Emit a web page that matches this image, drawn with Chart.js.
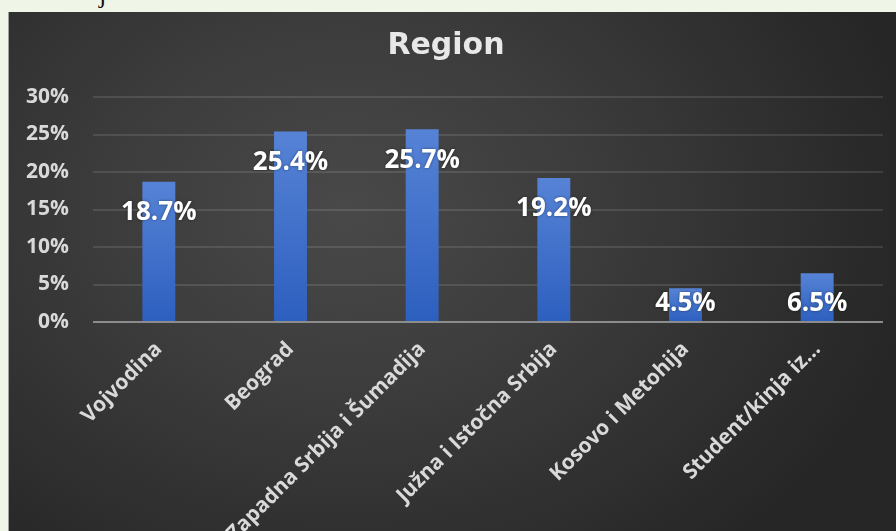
<!DOCTYPE html>
<html>
<head>
<meta charset="utf-8">
<script src="https://cdn.jsdelivr.net/npm/chart.js"></script>
<style>
  html, body { margin: 0; padding: 0; }
  body { width: 896px; height: 531px; background: #eff6e8; position: relative; overflow: hidden; }
  #frag { position: absolute; left: 99px; top: -20px; font: 26px "Liberation Serif", serif; color: #111; }
  #okvir {
    position: absolute; left: 8px; top: 12px; width: 888px; height: 519px;
    border-left: 1px solid #a0a0a0; box-sizing: border-box;
    background: radial-gradient(ellipse 65% 85% at 38% 38%, #494949 0%, #3b3b3b 45%, #262626 100%);
  }
</style>
</head>
<body>
<div id="frag">j</div>
<div id="okvir"><canvas id="grafikRegion"></canvas></div>
<script>
const regioni = ['Vojvodina', 'Beograd', 'Zapadna Srbija i Šumadija', 'Južna i Istočna Srbija', 'Kosovo i Metohija', 'Student/kinja iz…'];
const procenti = [18.7, 25.4, 25.7, 19.2, 4.5, 6.5];
const yTicks = [0, 5, 10, 15, 20, 25, 30];

const sivaSlova = '#d9d9d9';

// procenti na stubovima, kao u Excelu "inside end"
const oznakePlugin = {
  id: 'oznake',
  afterDatasetsDraw(chart) {
    const ctx = chart.ctx;
    const meta = chart.getDatasetMeta(0);
    ctx.save();
    ctx.font = 'bold 26px "Open Sans"';
    ctx.fillStyle = '#ffffff';
    ctx.textAlign = 'center';
    ctx.textBaseline = 'middle';
    ctx.shadowColor = 'rgba(0,0,0,0.45)';
    ctx.shadowBlur = 3;
    meta.data.forEach((bar, i) => {
      const y = Math.min(bar.y + 31, bar.base - 17);
      ctx.fillText(procenti[i].toFixed(1) + '%', bar.x, y);
    });
    ctx.restore();
  }
};

function bojaStuba(c) {
  const chart = c.chart;
  if (!chart.chartArea || !chart.scales.y) return '#3d6cc9';
  const y = chart.scales.y;
  const top = y.getPixelForValue(c.raw);
  const base = y.getPixelForValue(0);
  const g = chart.ctx.createLinearGradient(0, top, 0, base);
  g.addColorStop(0, '#5683d6');
  g.addColorStop(1, '#2d5fbf');
  return g;
}

const ctx = document.getElementById('grafikRegion').getContext('2d');
new Chart(ctx, {
  type: 'bar',
  data: {
    labels: regioni,
    datasets: [{
      data: procenti,
      backgroundColor: bojaStuba,
      barPercentage: 0.5,
      categoryPercentage: 0.5
    }]
  },
  options: {
    responsive: true,
    maintainAspectRatio: false,
    animation: false,
    layout: { padding: { left: 0, right: 13, top: 0, bottom: 0 } },
    plugins: {
      legend: { display: false },
      tooltip: { enabled: false },
      title: {
        display: true,
        text: 'Region',
        color: '#e8e8e8',
        font: { family: 'DejaVu Sans', size: 30, weight: 'bold', lineHeight: 1.2 },
        padding: { top: 16, bottom: 33 }
      }
    },
    scales: {
      x: {
        grid: { display: false, drawTicks: false },
        border: { display: false },
        afterFit(axis) { axis.height = 209; },
        ticks: {
          autoSkip: false,
          maxRotation: 45,
          minRotation: 45,
          padding: 15,
          color: sivaSlova,
          font: { family: 'Open Sans', size: 21, weight: 'bold' }
        }
      },
      y: {
        min: 0,
        max: 30,
        afterFit(axis) { axis.width = 84; },
        afterBuildTicks(axis) { axis.ticks = yTicks.map(v => ({ value: v })); },
        border: { display: false },
        grid: {
          drawTicks: false,
          lineWidth: 2,
          color: c => c.tick && c.tick.value === 0 ? '#8c8c8c' : 'rgba(255,255,255,0.11)'
        },
        ticks: {
          padding: 24,
          color: sivaSlova,
          font: { family: 'Open Sans', size: 21, weight: 'bold' },
          callback: v => v + '%'
        }
      }
    }
  },
  plugins: [oznakePlugin]
});
</script>
</body>
</html>
